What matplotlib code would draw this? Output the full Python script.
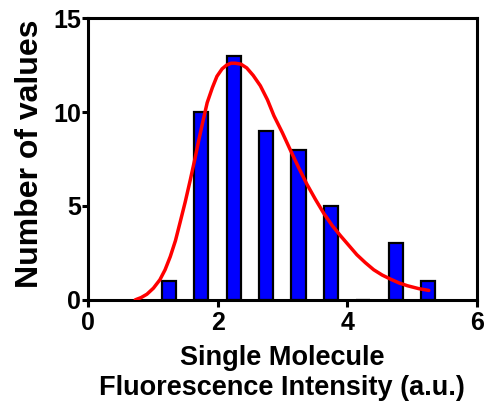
import matplotlib
matplotlib.use("Agg")
import matplotlib.pyplot as plt

plt.rcParams['font.family'] = ['Liberation Sans', 'DejaVu Sans']
plt.rcParams['font.weight'] = 'bold'

# histogram bins (centers) and counts
bin_centers = [1.25, 1.75, 2.25, 2.75, 3.25, 3.75, 4.25, 4.75, 5.25]
counts = [1, 10, 13, 9, 8, 5, 0, 3, 1]

# fitted curve
fit_x = [0.73, 0.82, 0.91, 1.01, 1.11, 1.19, 1.27, 1.35, 1.42, 1.50, 1.58, 1.65, 1.71,
         1.78, 1.84, 1.92, 1.99, 2.07, 2.14, 2.21, 2.27, 2.36, 2.45, 2.55, 2.66, 2.77,
         2.87, 3.00, 3.12, 3.25, 3.38, 3.51, 3.64, 3.77, 3.90, 4.03, 4.15, 4.28, 4.41,
         4.54, 4.67, 4.80, 4.93, 5.10, 5.26]
fit_y = [0.0, 0.12, 0.3, 0.62, 1.07, 1.6, 2.3, 3.15, 4.1, 5.2, 6.4, 7.5, 8.5,
         9.6, 10.5, 11.3, 11.9, 12.3, 12.5, 12.6, 12.6, 12.55, 12.35, 11.95, 11.4, 10.65,
         9.8, 8.9, 8.0, 7.05, 6.15, 5.35, 4.6, 3.95, 3.4, 2.88, 2.4, 1.98, 1.6,
         1.32, 1.1, 0.9, 0.75, 0.6, 0.5]

fig = plt.figure(figsize=(4.86, 4.03), dpi=100)
ax = fig.add_axes([0.181, 0.256, 0.800, 0.699])

ax.bar(bin_centers, counts, width=0.22, color='#0000ff', edgecolor='black',
       linewidth=1.6, zorder=2)
ax.plot(fit_x, fit_y, color='#ff0000', linewidth=2.5, zorder=3,
        solid_joinstyle='round', solid_capstyle='round')

ax.set_xlim(0, 6)
ax.set_ylim(0, 15)
ax.set_xticks([0, 2, 4, 6])
ax.set_yticks([0, 5, 10, 15])

for s in ax.spines.values():
    s.set_linewidth(2.2)
ax.tick_params(direction='out', length=4, width=2.2, labelsize=18, pad=1)
ax.tick_params(axis='x', length=5, pad=3)

ax.set_ylabel('Number of values', fontsize=23, fontweight='bold')
ax.yaxis.set_label_coords(-0.11, 0.52)
ax.set_xlabel('Single Molecule\nFluorescence Intensity (a.u.)', fontsize=19.5,
              fontweight='bold', linespacing=1.2, labelpad=7)

fig.savefig('out.png', dpi=100)
